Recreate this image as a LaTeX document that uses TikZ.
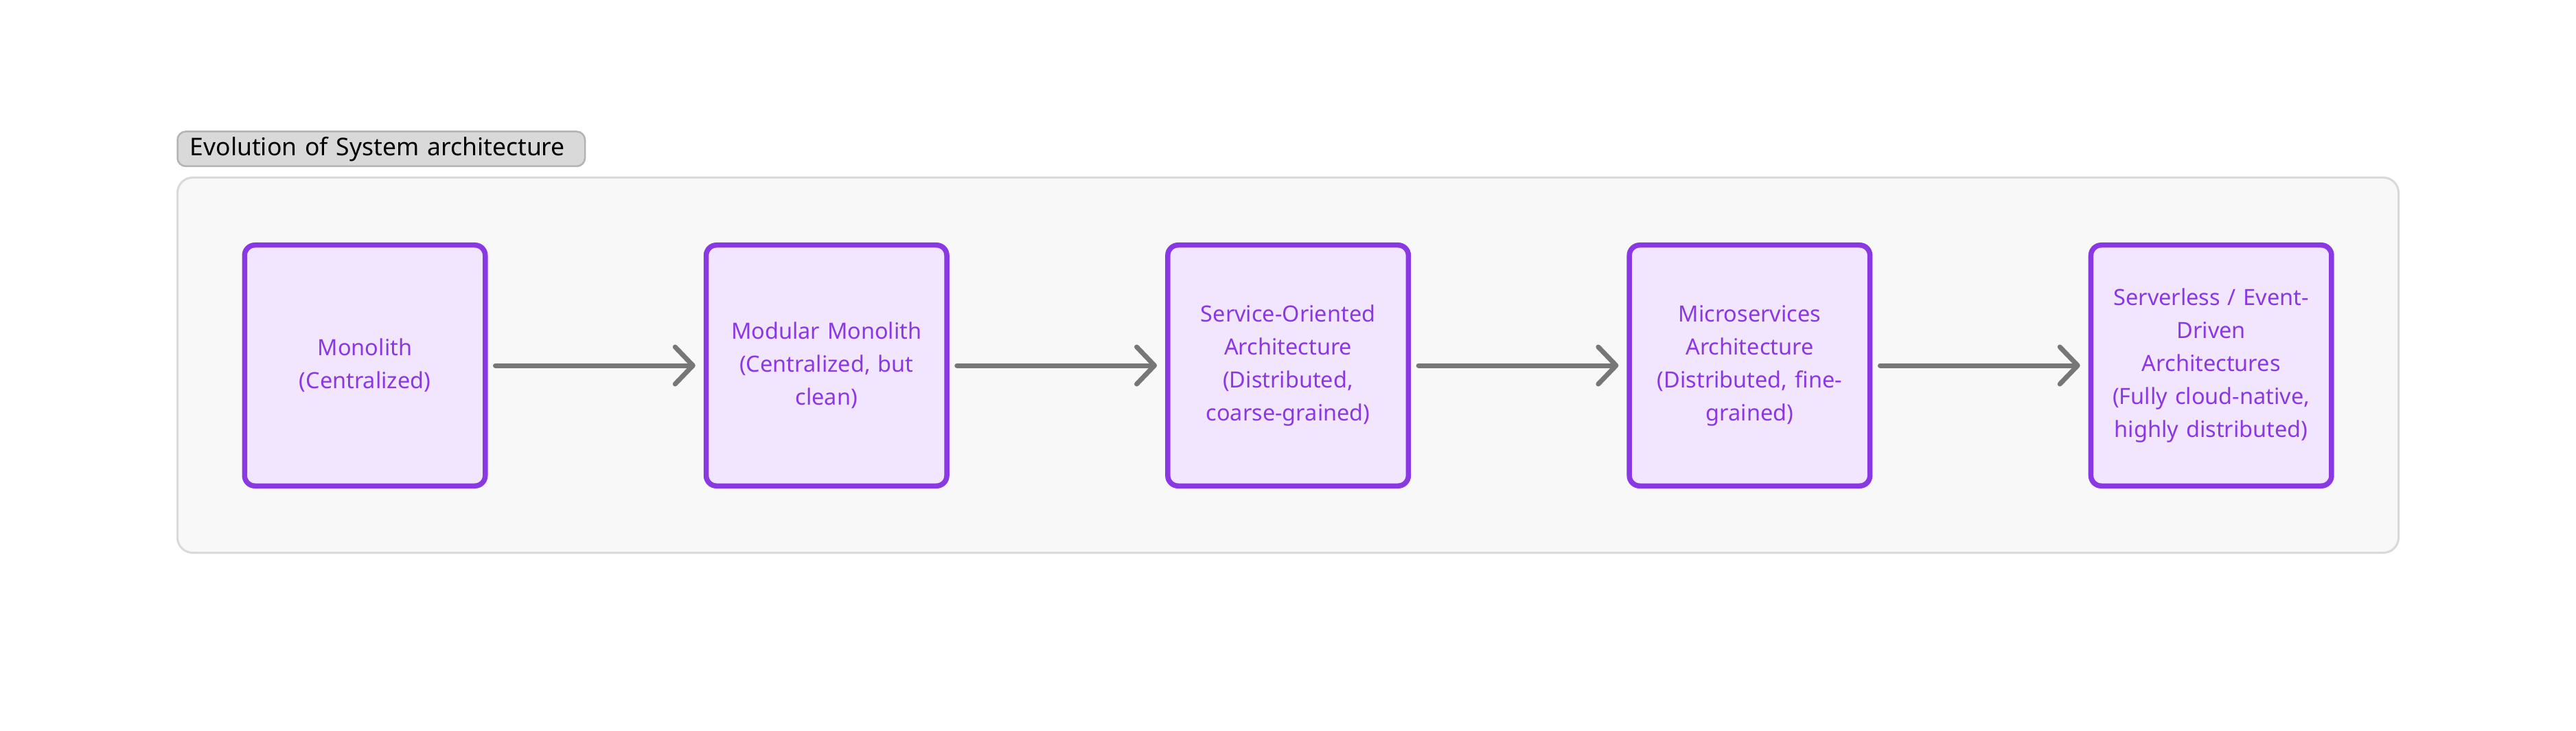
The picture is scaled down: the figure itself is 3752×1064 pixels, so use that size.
\documentclass[tikz,border=0pt]{standalone}
\usepackage{fontspec}
\setmainfont{Noto Sans}
\usetikzlibrary{arrows.meta}
\definecolor{purp}{HTML}{8A38E3}
\definecolor{purpfill}{HTML}{F2E5FE}
\definecolor{contfill}{HTML}{F8F8F8}
\definecolor{contline}{HTML}{D9D9D9}
\definecolor{lblfill}{HTML}{D9D9D9}
\definecolor{lblline}{HTML}{B3B3B3}
\definecolor{arrowgray}{HTML}{777777}
\begin{document}
\begin{tikzpicture}[x=1pt,y=-1pt,
  container/.style={draw=contline, fill=contfill, line width=3pt, rounded corners=22pt},
  labelbox/.style={draw=lblline, fill=lblfill, line width=2.5pt, rounded corners=12pt,
    anchor=north west, minimum width=593.5pt, minimum height=50.5pt, inner xsep=17pt,
    text width=557pt, align=left, font=\fontsize{35.5}{42}\selectfont, text=black},
  stagebox/.style={draw=purp, fill=purpfill, line width=7.5pt, rounded corners=15pt,
    minimum width=350.5pt, minimum height=350.5pt, inner sep=0pt, text width=320pt,
    align=center, text=purp, font=\fontsize{32.5}{48}\selectfont},
  flow/.style={draw=arrowgray, line width=7pt, line cap=round,
    -{Straight Barb[length=26pt,width=54pt,round]}, shorten <=11pt, shorten >=12pt}
]
\useasboundingbox (0,0) rectangle (3752,1064);
\fill[white] (0,0) rectangle (3752,1064);
\draw[container] (258.5,258.5) rectangle (3493.5,804.5);
\node[labelbox] (lbl) at (257.25,190.25) {\mbox{Evolution of System architecture}};
\node[stagebox] (s1) at (531.5,532) {Monolith\\(Centralized)};
\node[stagebox] (s2) at (1203.8,532) {Modular Monolith\\(Centralized, but\\clean)};
\node[stagebox] (s3) at (1876.1,532) {Service-Oriented\\Architecture\\(Distributed,\\coarse-grained)};
\node[stagebox] (s4) at (2548.4,532) {Microservices\\Architecture\\(Distributed, fine-\\grained)};
\node[stagebox] (s5) at (3220.7,532) {Serverless / Event-\\Driven\\Architectures\\(Fully cloud-native,\\highly distributed)};
\draw[flow] (s1.east) -- (s2.west);
\draw[flow] (s2.east) -- (s3.west);
\draw[flow] (s3.east) -- (s4.west);
\draw[flow] (s4.east) -- (s5.west);
\end{tikzpicture}
\end{document}
